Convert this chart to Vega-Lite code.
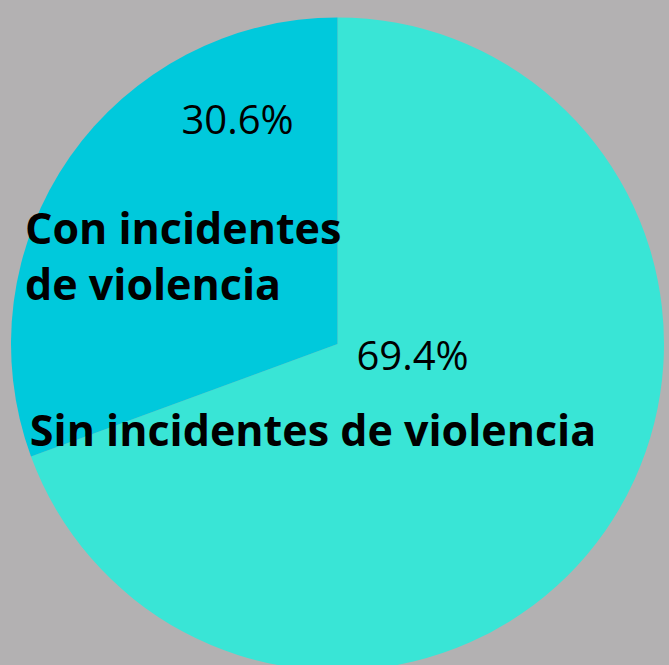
{
  "$schema": "https://vega.github.io/schema/vega-lite/v6.json",
  "width": 669,
  "height": 665,
  "autosize": {"type": "fit", "contains": "padding"},
  "padding": 0,
  "background": "#b3b1b2",
  "config": {"view": {"stroke": null}, "font": "Open Sans"},
  "data": {
    "values": [
      {"category": "Sin incidentes de violencia", "value": 69.4, "pct": "69.4%"},
      {"category": "Con incidentes de violencia", "value": 30.6, "pct": "30.6%"}
    ]
  },
  "encoding": {
    "theta": {"field": "value", "type": "quantitative", "stack": true},
    "order": {"field": "value", "sort": "descending"}
  },
  "layer": [
    {
      "mark": {"type": "arc", "radius": 326.5, "x": 337.5, "y": 344},
      "encoding": {
        "color": {
          "field": "category",
          "type": "nominal",
          "scale": {"domain": ["Sin incidentes de violencia", "Con incidentes de violencia"], "range": ["#39e5d6", "#00c9dc"]},
          "legend": null
        }
      }
    },
    {
      "mark": {"type": "text", "radius": 150, "x": 337.5, "y": 344, "fontSize": 40, "color": "#000000", "align": "center", "baseline": "middle", "dx": 23, "dy": -136},
      "encoding": {
        "text": {"condition": {"test": "datum.category === 'Con incidentes de violencia'", "field": "pct"}, "value": ""}
      }
    },
    {
      "mark": {"type": "text", "radius": 150, "x": 337.5, "y": 344, "fontSize": 40, "color": "#000000", "align": "center", "baseline": "middle", "dx": -48, "dy": -72},
      "encoding": {
        "text": {"condition": {"test": "datum.category === 'Sin incidentes de violencia'", "field": "pct"}, "value": ""}
      }
    },
    {
      "mark": {"type": "text", "radius": 150, "x": 337.5, "y": 344, "fontSize": 43, "fontWeight": "bold", "color": "#000000", "align": "left", "baseline": "alphabetic", "lineHeight": 56, "lineBreak": "|", "dx": -189.5, "dy": -14},
      "encoding": {
        "text": {"condition": {"test": "datum.category === 'Con incidentes de violencia'", "value": "Con incidentes|de violencia"}, "value": ""}
      }
    },
    {
      "mark": {"type": "text", "radius": 150, "x": 337.5, "y": 344, "fontSize": 43, "fontWeight": "bold", "color": "#000000", "align": "center", "baseline": "alphabetic", "dx": -147.5, "dy": 16},
      "encoding": {
        "text": {"condition": {"test": "datum.category === 'Sin incidentes de violencia'", "field": "category"}, "value": ""}
      }
    }
  ]
}
